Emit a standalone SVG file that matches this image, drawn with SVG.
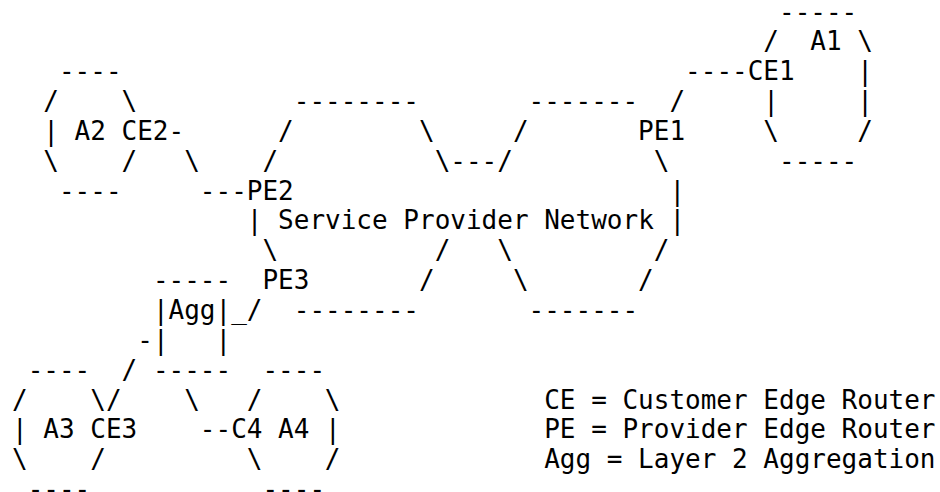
<svg xmlns="http://www.w3.org/2000/svg" width="940" height="492" viewBox="0 0 940 492">
  <style>
    text { font-family: "DejaVu Sans Mono", "Liberation Mono", monospace; font-size: 26px; fill: #000; white-space: pre; }
  </style>
  <rect width="940" height="492" fill="#fff"/>

  <!-- Grid: column c at x = 12 + 15.653c, row r baseline at y = 20.5 + 29.85r -->

  <!-- Site A1 -->
  <g id="site-a1">
    <text x="779.00" y="20.5">-----</text>
    <text x="763.34" y="50.35" xml:space="preserve">/  A1 \</text>
    <text x="857.26" y="80.2">|</text>
    <text x="763.34" y="110.05">|</text>
    <text x="857.26" y="110.05">|</text>
    <text x="763.34" y="139.9">\</text>
    <text x="857.26" y="139.9">/</text>
    <text x="779.00" y="169.75">-----</text>
  </g>
  <g id="ce1"><text x="747.69" y="80.2">CE1</text></g>
  <g id="pe1"><text x="638.12" y="139.9">PE1</text></g>

  <!-- Site A2 -->
  <g id="site-a2">
    <text x="58.96" y="80.2">----</text>
    <text x="43.31" y="110.05">/</text>
    <text x="121.57" y="110.05">\</text>
    <text x="43.31" y="139.9" xml:space="preserve">| A2</text>
    <text x="43.31" y="169.75">\</text>
    <text x="121.57" y="169.75">/</text>
    <text x="58.96" y="199.6">----</text>
  </g>
  <g id="ce2"><text x="121.57" y="139.9">CE2</text></g>
  <g id="pe2"><text x="246.80" y="199.6">PE2</text></g>
  <g id="pe3"><text x="262.45" y="289.15">PE3</text></g>

  <!-- Service provider network -->
  <g id="sp-network">
    <text x="293.75" y="110.05">--------</text>
    <text x="528.55" y="110.05">-------</text>
    <text x="278.10" y="139.9">/</text>
    <text x="418.98" y="139.9">\</text>
    <text x="512.90" y="139.9">/</text>
    <text x="262.45" y="169.75">/</text>
    <text x="434.63" y="169.75">\---/</text>
    <text x="653.77" y="169.75">\</text>
    <text x="669.43" y="199.6">|</text>
    <text x="246.80" y="229.45" xml:space="preserve">| Service Provider Network |</text>
    <text x="262.45" y="259.3">\</text>
    <text x="434.63" y="259.3">/</text>
    <text x="497.24" y="259.3">\</text>
    <text x="653.77" y="259.3">/</text>
    <text x="418.98" y="289.15">/</text>
    <text x="512.90" y="289.15">\</text>
    <text x="638.12" y="289.15">/</text>
    <text x="293.75" y="319.0">--------</text>
    <text x="528.55" y="319.0">-------</text>
  </g>

  <!-- Layer 2 aggregation -->
  <g id="agg">
    <text x="152.88" y="289.15">-----</text>
    <text x="152.88" y="319.0">|Agg|</text>
    <text x="152.88" y="348.85">|</text>
    <text x="215.49" y="348.85">|</text>
    <text x="152.88" y="378.7">-----</text>
  </g>

  <!-- Site A3 -->
  <g id="site-a3">
    <text x="27.65" y="378.7">----</text>
    <text x="12" y="408.55">/</text>
    <text x="90.27" y="408.55">\</text>
    <text x="12" y="438.4" xml:space="preserve">| A3</text>
    <text x="12" y="468.25">\</text>
    <text x="90.27" y="468.25">/</text>
    <text x="27.65" y="498.1">----</text>
  </g>
  <g id="ce3"><text x="90.27" y="438.4">CE3</text></g>

  <!-- Site A4 -->
  <g id="site-a4">
    <text x="262.45" y="378.7">----</text>
    <text x="246.80" y="408.55">/</text>
    <text x="324.86" y="408.55">\</text>
    <text x="278.10" y="438.4" xml:space="preserve">A4 |</text>
    <text x="246.80" y="468.25">\</text>
    <text x="324.86" y="468.25">/</text>
    <text x="262.45" y="498.1">----</text>
  </g>
  <g id="c4"><text x="231.14" y="438.4">C4</text></g>

  <!-- Attachment links -->
  <g id="connectors">
    <text x="685.08" y="80.2">----</text>
    <text x="669.43" y="110.05">/</text>
    <text x="168.53" y="139.9">-</text>
    <text x="184.18" y="169.75">\</text>
    <text x="199.84" y="199.6">---</text>
    <text x="231.14" y="319.0">_/</text>
    <text x="137.22" y="348.85">-</text>
    <text x="121.57" y="378.7">/</text>
    <text x="105.92" y="408.55">/</text>
    <text x="184.18" y="408.55">\</text>
    <text x="199.84" y="438.4">--</text>
  </g>

  <!-- Legend -->
  <g id="legend">
    <text x="544.20" y="408.55" xml:space="preserve">CE = Customer Edge Router</text>
    <text x="544.20" y="438.4" xml:space="preserve">PE = Provider Edge Router</text>
    <text x="544.20" y="468.25" xml:space="preserve">Agg = Layer 2 Aggregation</text>
  </g>
</svg>
